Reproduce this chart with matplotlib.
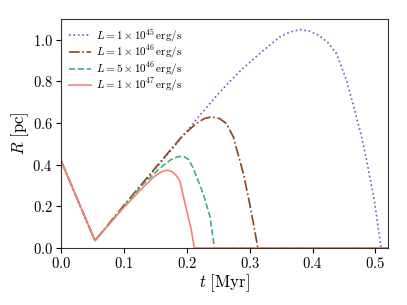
import matplotlib
matplotlib.use("Agg")
import matplotlib.pyplot as plt
from matplotlib.ticker import FuncFormatter, MultipleLocator

plt.rcParams['mathtext.fontset'] = 'cm'
plt.rcParams['font.family'] = ['DejaVu Serif']

labels = [r'$L = 1 \times 10^{45}\,\mathrm{erg/s}$',
          r'$L = 1 \times 10^{46}\,\mathrm{erg/s}$',
          r'$L = 5 \times 10^{46}\,\mathrm{erg/s}$',
          r'$L = 1 \times 10^{47}\,\mathrm{erg/s}$']

t_45 = [0, 0.054, 0.1, 0.15, 0.2, 0.22, 0.25, 0.27, 0.29, 0.316, 0.348, 0.365, 0.38, 0.395, 0.41, 0.425,
        0.438, 0.454, 0.467, 0.478, 0.486, 0.499, 0.509, 0.52]
R_45 = [0.42, 0.035, 0.20, 0.38, 0.56, 0.635, 0.74, 0.805, 0.865, 0.934, 1.014, 1.038, 1.049, 1.042, 1.022, 0.985,
        0.934, 0.806, 0.662, 0.534, 0.422, 0.214, 0.0, 0.0]

t_46 = [0, 0.054, 0.1, 0.15, 0.194, 0.216, 0.228, 0.239, 0.252, 0.263, 0.274, 0.29, 0.30, 0.308, 0.313, 0.52]
R_46 = [0.42, 0.035, 0.205, 0.385, 0.542, 0.600, 0.622, 0.630, 0.622, 0.598, 0.534, 0.358, 0.214, 0.086, 0.0, 0.0]

t_5e46 = [0, 0.054, 0.1, 0.13, 0.16, 0.175, 0.185, 0.195, 0.203, 0.21, 0.226, 0.237, 0.244, 0.52]
R_5e46 = [0.42, 0.035, 0.20, 0.305, 0.39, 0.425, 0.438, 0.44, 0.425, 0.385, 0.262, 0.150, 0.0, 0.0]

t_47 = [0, 0.054, 0.1, 0.13, 0.149, 0.16, 0.168, 0.176, 0.183, 0.189, 0.1997, 0.207, 0.212, 0.52]
R_47 = [0.42, 0.035, 0.195, 0.29, 0.345, 0.366, 0.374, 0.368, 0.350, 0.322, 0.182, 0.09, 0.0, 0.0]

fig = plt.figure(figsize=(4.07, 3.05), dpi=100)
ax = fig.add_axes([61/407, 1-248/305, (388-61)/407, (248-19)/305])

ax.plot(t_45, R_45, color='#7b52c9', ls=':', lw=1.2, label=labels[0])
ax.plot(t_46, R_46, color='#8b4513', ls='-.', lw=1.2, label=labels[1])
ax.plot(t_5e46, R_5e46, color='#3cb371', ls='--', lw=1.2, label=labels[2])
ax.plot(t_47, R_47, color='#fa8072', ls='-', lw=1.2, label=labels[3])

ax.set_xlim(0, 0.52)
ax.set_ylim(0, 1.1)
ax.xaxis.set_major_locator(MultipleLocator(0.1))
ax.yaxis.set_major_locator(MultipleLocator(0.2))
fmt = FuncFormatter(lambda v, p: r'$%.1f$' % v)
ax.xaxis.set_major_formatter(fmt)
ax.yaxis.set_major_formatter(fmt)
ax.tick_params(labelsize=10.5, direction='out', length=3.5, pad=2.5)
ax.set_xlabel(r'$t\ [\mathrm{Myr}]$', fontsize=12, labelpad=1)
ax.set_ylabel(r'$R\ [\mathrm{pc}]$', fontsize=12, labelpad=1)
for s in ax.spines.values():
    s.set_color('#333333')
    s.set_linewidth(0.8)

ax.legend(loc='upper left', frameon=False, fontsize=8, handlelength=2.0, handletextpad=0.45,
          labelspacing=-0.1, borderaxespad=0.2, borderpad=0.5)

fig.savefig('out.png', dpi=100)
